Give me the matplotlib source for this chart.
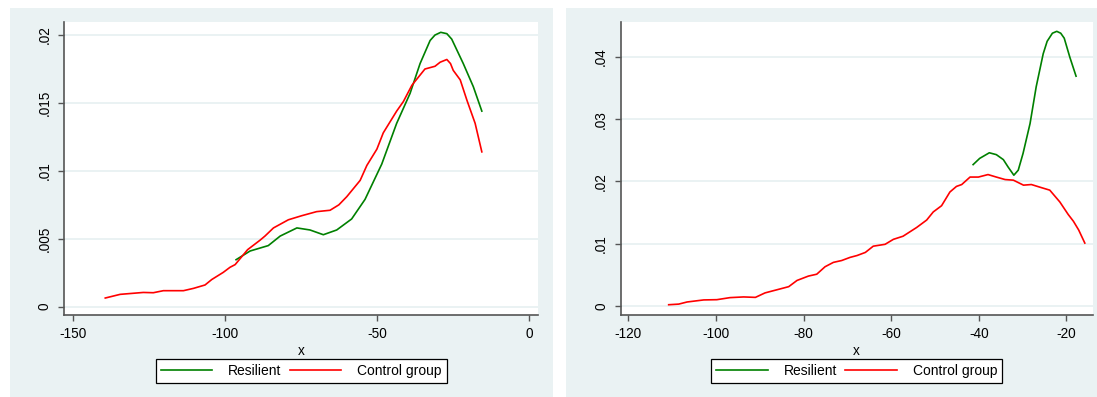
import matplotlib
matplotlib.use("Agg")
import matplotlib.pyplot as plt
from matplotlib.patches import Rectangle

plt.rcParams["font.family"] = ["Liberation Sans", "DejaVu Sans"]
plt.rcParams["axes.unicode_minus"] = False

# left panel
left_ctrl_x = [-139.3, -134.4, -126.8, -123.5, -120.2, -113.6, -110.3, -106.5, -104.3,
               -100.5, -98.3, -96.6, -92.5, -88.4, -86.8, -84.0, -79.1, -74.7, -69.8,
               -65.4, -62.5, -59.9, -55.5, -53.3, -50.0, -47.9, -43.5, -41.3, -38.5,
               -34.2, -30.9, -29.2, -27.0, -25.8, -24.9, -22.6, -20.4, -17.7, -15.5]
left_ctrl_y = [0.00064, 0.00091, 0.00105, 0.00103, 0.00118, 0.00118, 0.00135, 0.0016, 0.0020,
               0.00253, 0.0029, 0.0031, 0.0042, 0.0049, 0.0052, 0.0058, 0.0064, 0.0067, 0.0070,
               0.0071, 0.0075, 0.0081, 0.0093, 0.0104, 0.0116, 0.0128, 0.0144, 0.0151, 0.0163,
               0.0175, 0.0177, 0.0180, 0.0182, 0.0179, 0.0174, 0.0167, 0.0152, 0.0135, 0.0114]
left_res_x = [-96.3, -91.7, -85.7, -81.8, -76.3, -72.0, -67.6, -63.2, -58.3, -53.9,
              -48.4, -43.5, -39.1, -35.8, -32.5, -30.9, -29.0, -27.0, -25.4, -21.6,
              -18.3, -15.5]
left_res_y = [0.00346, 0.0041, 0.0045, 0.0052, 0.0058, 0.00565, 0.0053, 0.00565, 0.00646, 0.0079,
              0.0105, 0.0135, 0.0157, 0.0179, 0.0196, 0.0200, 0.0202, 0.0201, 0.0197, 0.0179,
              0.0162, 0.0144]
left_yticks = [0, 0.005, 0.01, 0.015, 0.02]
left_yticklabels = ["0", ".005", ".01", ".015", ".02"]
left_xticks = [-150, -100, -50, 0]

# right panel
right_ctrl_x = [-110.8, -108.5, -106.6, -102.8, -99.8, -96.8, -93.7, -91.0, -88.8, -86.1,
                -83.4, -81.5, -78.9, -77.0, -75.1, -73.2, -71.3, -69.4, -67.8, -65.9,
                -64.1, -61.4, -59.5, -57.3, -54.2, -51.9, -50.4, -48.5, -46.6, -45.1,
                -43.9, -42.0, -40.1, -37.9, -36.0, -34.0, -32.1, -29.8, -28.0, -25.7,
                -23.8, -21.5, -19.6, -18.4, -17.2, -15.8]
right_ctrl_y = [0.0002, 0.0003, 0.00064, 0.00097, 0.00101, 0.00134, 0.00145, 0.00138, 0.0021, 0.0026,
                0.0031, 0.0041, 0.0048, 0.0051, 0.0063, 0.0070, 0.0073, 0.0078, 0.0081, 0.0086,
                0.0096, 0.0099, 0.0107, 0.0112, 0.0126, 0.0138, 0.0151, 0.0161, 0.0183, 0.0192,
                0.0195, 0.0207, 0.0207, 0.0211, 0.0207, 0.0203, 0.0202, 0.0194, 0.0195, 0.0190,
                0.0186, 0.0167, 0.0147, 0.0136, 0.0122, 0.0101]
right_res_x = [-41.3, -39.8, -37.6, -36.0, -34.4, -33.3, -32.0, -31.0, -29.9, -28.3,
               -26.9, -25.3, -24.4, -23.2, -22.2, -21.3, -20.5, -19.2, -17.8]
right_res_y = [0.0227, 0.0237, 0.0246, 0.0243, 0.0235, 0.0223, 0.0210, 0.0218, 0.0245, 0.0293,
               0.0352, 0.0405, 0.0425, 0.0438, 0.0441, 0.0438, 0.0430, 0.0399, 0.0369]
right_yticks = [0, 0.01, 0.02, 0.03, 0.04]
right_yticklabels = ["0", ".01", ".02", ".03", ".04"]
right_xticks = [-120, -100, -80, -60, -40, -20]

labels = ["Resilient", "Control group"]

BG = "#EAF2F3"
AXC = "#555555"
W, H = 1097, 397

fig = plt.figure(figsize=(W / 100, H / 100), dpi=100)

# light panel backgrounds (pixel extents)
fig.patches.append(Rectangle((10 / W, 0), 543 / W, (H - 8) / H, transform=fig.transFigure,
                             facecolor=BG, edgecolor="none", zorder=-5))
fig.patches.append(Rectangle((566 / W, 0), (W - 566) / W, (H - 8) / H, transform=fig.transFigure,
                             facecolor=BG, edgecolor="none", zorder=-5))

bottom = (H - 315) / H
height = (315 - 22) / H
ax1 = fig.add_axes([64.2 / W, bottom, (538.4 - 64.2) / W, height])
ax2 = fig.add_axes([620.5 / W, bottom, (1092.7 - 620.5) / W, height])


def style(ax, xticks, yticks, yticklabels, xlim, ylim):
    ax.set_facecolor("white")
    ax.set_xlim(*xlim)
    ax.set_ylim(*ylim)
    ax.set_xticks(xticks)
    ax.set_yticks(yticks)
    ax.set_yticklabels(yticklabels, rotation=90, va="center")
    for s in ["top", "right"]:
        ax.spines[s].set_visible(False)
    for s in ["left", "bottom"]:
        ax.spines[s].set_color(AXC)
        ax.spines[s].set_linewidth(1.2)
    ax.tick_params(length=4, width=1, color=AXC, labelsize=9.8, pad=5)
    ax.tick_params(axis="y", pad=5)
    ax.yaxis.grid(True, color=BG, linewidth=1.4)
    ax.set_axisbelow(True)
    ax.set_xlabel("x", fontsize=9.8, labelpad=2)
    leg = ax.legend(labels, loc="upper center", bbox_to_anchor=(0.5, -0.15), ncol=2,
                    frameon=True, fancybox=False, edgecolor="black", framealpha=1,
                    fontsize=10, handlelength=3.7, handletextpad=1.15, columnspacing=0.6,
                    borderpad=0.35, borderaxespad=0)
    leg.get_frame().set_linewidth(0.9)


ax1.plot(left_res_x, left_res_y, color="#008000", lw=1.2)
ax1.plot(left_ctrl_x, left_ctrl_y, color="#FF0000", lw=1.2)
style(ax1, left_xticks, left_yticks, left_yticklabels, (-152.8, 3.1), (-0.00061, 0.02096))

ax2.plot(right_res_x, right_res_y, color="#008000", lw=1.2)
ax2.plot(right_ctrl_x, right_ctrl_y, color="#FF0000", lw=1.2)
style(ax2, right_xticks, right_yticks, right_yticklabels, (-121.8, -14.0), (-0.00145, 0.0456))

fig.savefig("out.png", dpi=100)
